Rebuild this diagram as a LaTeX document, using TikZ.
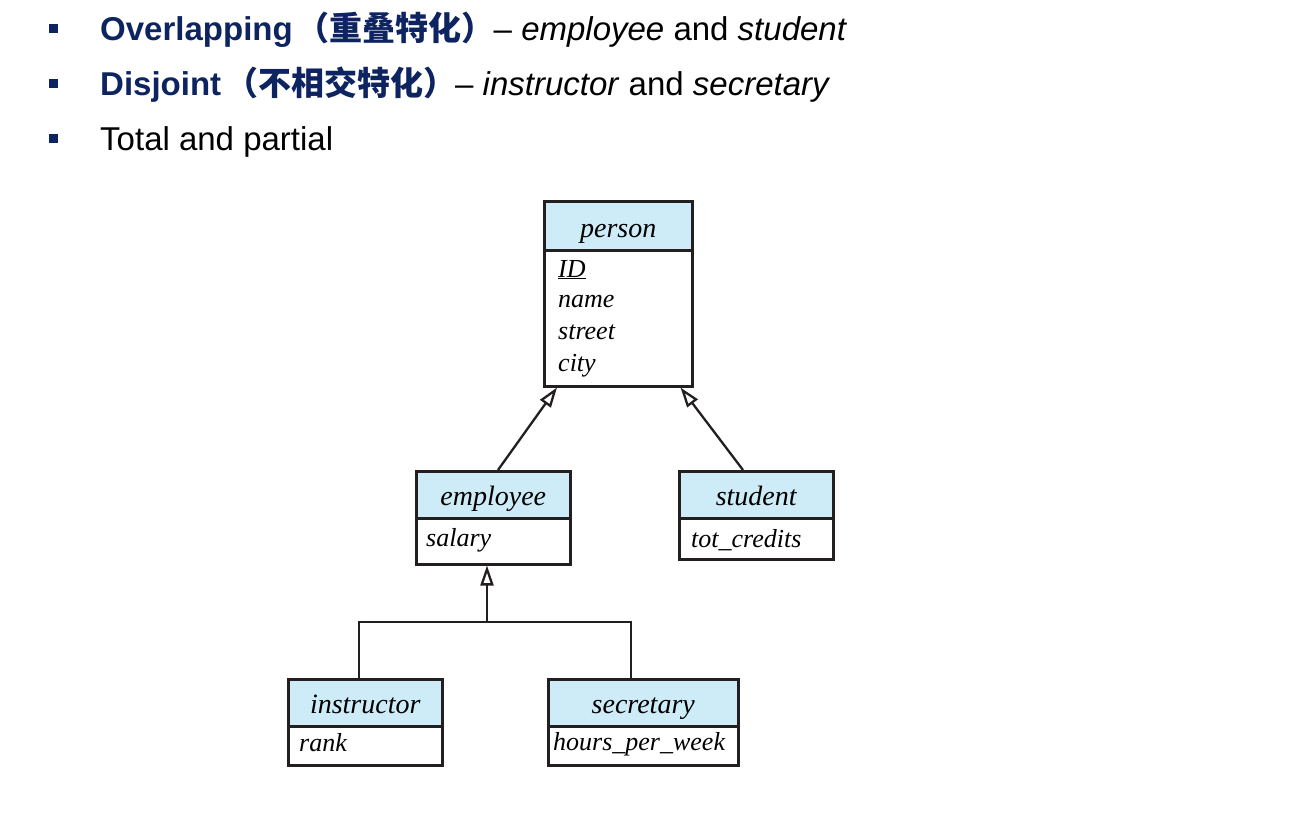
\documentclass[tikz,border=0pt]{standalone}
\usepackage{fontspec}
\setmainfont{Liberation Sans}
\newfontfamily\cjk{Noto Sans CJK SC}
\newfontfamily\tms{Liberation Serif}
\usetikzlibrary{arrows.meta,calc}
\definecolor{navy}{RGB}{14,36,96}
\definecolor{hdrblue}{RGB}{205,236,248}
\definecolor{ink}{RGB}{35,31,32}
\begin{document}
\begin{tikzpicture}[x=1pt,y=-1pt,
  bul/.style={fill=navy,draw=none,minimum size=9pt,inner sep=0pt},
  bline/.style={anchor=base west,inner sep=0pt,font=\fontsize{33}{36}\selectfont},
  hdr/.style={draw=ink,line width=2.5pt,fill=hdrblue,anchor=north west,inner sep=0pt},
  bodybox/.style={draw=ink,line width=2.5pt,fill=white,anchor=north west,inner sep=0pt},
  title/.style={anchor=base,inner sep=0pt,font=\tms\itshape\fontsize{28}{30}\selectfont},
  attr/.style={anchor=base west,inner sep=0pt,font=\tms\itshape\fontsize{26}{28}\selectfont},
  conn/.style={draw=ink,line width=2.3pt},
  isa/.style={conn,-{Triangle[open,length=20pt,width=13pt,fill=white]}}
]
\useasboundingbox (0,0) rectangle (1296,836);

% bullets
\node[bul] (b1) at (53,28) {};
\node[bul] (b2) at (53,83) {};
\node[bul] (b3) at (53,138) {};
\node[bline] (l1) at (100,40) {\textcolor{navy}{\bfseries Overlapping\kern4pt{\cjk\bfseries （重叠特化）}}\kern-1pt– \textit{employee} and \textit{student}};
\node[bline] (l2) at (100,95) {\textcolor{navy}{\bfseries Disjoint\kern4pt{\cjk\bfseries （不相交特化）}}\kern-1pt– \textit{instructor} and \textit{secretary}};
\node[bline] (l3) at (100,150) {Total and partial};

% person
\node[hdr,minimum width=148pt,minimum height=49pt] (personh) at (543,200) {};
\node[bodybox,minimum width=148pt,minimum height=136pt] (personb) at (543,249) {};
\node[title] (persont) at ($(personh.south)+(0,-14)$) {person};
\node[attr] (pid) at (558,277) {\underline{ID}};
\node[attr] (pname) at (558,307) {name};
\node[attr] (pstreet) at (558,339) {street};
\node[attr] (pcity) at (558,371) {city};

% employee
\node[hdr,minimum width=154pt,minimum height=47pt] (emph) at (415,470) {};
\node[bodybox,minimum width=154pt,minimum height=46pt] (empb) at (415,517) {};
\node[title] (empt) at ($(emph.south)+(0,-14)$) {employee};
\node[attr] (esal) at (426,546) {salary};

% student
\node[hdr,minimum width=154pt,minimum height=47pt] (stuh) at (678,470) {};
\node[bodybox,minimum width=154pt,minimum height=41pt] (stub) at (678,517) {};
\node[title] (stut) at ($(stuh.south)+(0,-14)$) {student};
\node[attr] (stc) at (691,547) {tot\_credits};

% instructor
\node[hdr,minimum width=154pt,minimum height=47pt] (insh) at (287,678) {};
\node[bodybox,minimum width=154pt,minimum height=39pt] (insb) at (287,725) {};
\node[title] (inst) at ($(insh.south)+(0,-14)$) {instructor};
\node[attr] (irank) at (299,751) {rank};

% secretary
\node[hdr,minimum width=190pt,minimum height=47pt] (sech) at (547,678) {};
\node[bodybox,minimum width=190pt,minimum height=39pt] (secb) at (547,725) {};
\node[title] (sect) at ($(sech.south)+(0,-14)$) {secretary};
\node[attr] (shpw) at (553,750) {hours\_per\_week};

% connectors
\coordinate (pl) at ($(personb.south west)+(14,0)$);
\coordinate (pr) at ($(personb.south east)+(-13,0)$);
\coordinate (et) at ($(emph.north west)+(83,0)$);
\coordinate (st) at ($(stuh.north west)+(65,0)$);
\draw[isa] (et) -- (pl);
\draw[isa] (st) -- (pr);

\coordinate (eb) at ($(empb.south west)+(72,0)$);
\coordinate (jn) at (eb |- 0,622);
\coordinate (it) at ($(insh.north west)+(72,0)$);
\coordinate (stp) at ($(sech.north west)+(84,0)$);
\draw[isa] (jn) -- (eb);
\draw[conn] (it) |- (jn) -| (stp);
\end{tikzpicture}
\end{document}
